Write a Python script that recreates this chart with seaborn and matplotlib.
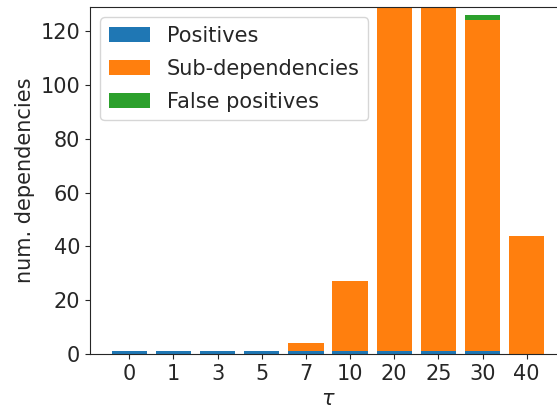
import numpy as np
import pandas as pd
import matplotlib
matplotlib.use("Agg")
import matplotlib.pyplot as plt
import seaborn as sns

# 데이터
taus = ["0", "1", "3", "5", "7", "10", "20", "25", "30", "40"]
positives = [1, 1, 1, 1, 1, 1, 1, 1, 1, 0]
sub_deps = [0, 0, 0, 0, 3, 26, 140, 140, 123, 44]
false_pos = [0, 0, 0, 0, 0, 0, 0, 0, 2, 0]

df = pd.DataFrame({"tau": taus, "pos": positives, "sub": sub_deps, "fp": false_pos})
df["sub_top"] = df["pos"] + df["sub"]
df["fp_top"] = df["sub_top"] + df["fp"]

sns.set_style("ticks")
plt.rcParams["font.family"] = ["DejaVu Sans"]

fig = plt.figure(figsize=(5.57, 4.09), dpi=100)
ax = fig.add_axes([90 / 557, 1 - 354 / 409, 476 / 557, 347 / 409])

# 누적 막대: 큰 값부터 그리기
bar_kw = dict(saturation=1, width=0.8, ax=ax, linewidth=0, edgecolor="none")
sns.barplot(data=df, x="tau", y="fp_top", color="#2ca02c", label="False positives", **bar_kw)
sns.barplot(data=df, x="tau", y="sub_top", color="#ff7f0e", label="Sub-dependencies", **bar_kw)
sns.barplot(data=df, x="tau", y="pos", color="#1f77b4", label="Positives", **bar_kw)

ax.set_xlim(-0.89, 9.89)
ax.set_ylim(0, 129)
ax.set_yticks([0, 20, 40, 60, 80, 100, 120])
ax.set_xlabel(r"$\tau$", fontsize=15)
ax.set_ylabel("num. dependencies", fontsize=15)
ax.tick_params(labelsize=15)
for s in ax.spines.values():
    s.set_visible(True)

h, l = ax.get_legend_handles_labels()
ax.legend(h[::-1], l[::-1], loc="upper left", fontsize=15, labelspacing=0.62)

fig.savefig("out.png", dpi=100)
